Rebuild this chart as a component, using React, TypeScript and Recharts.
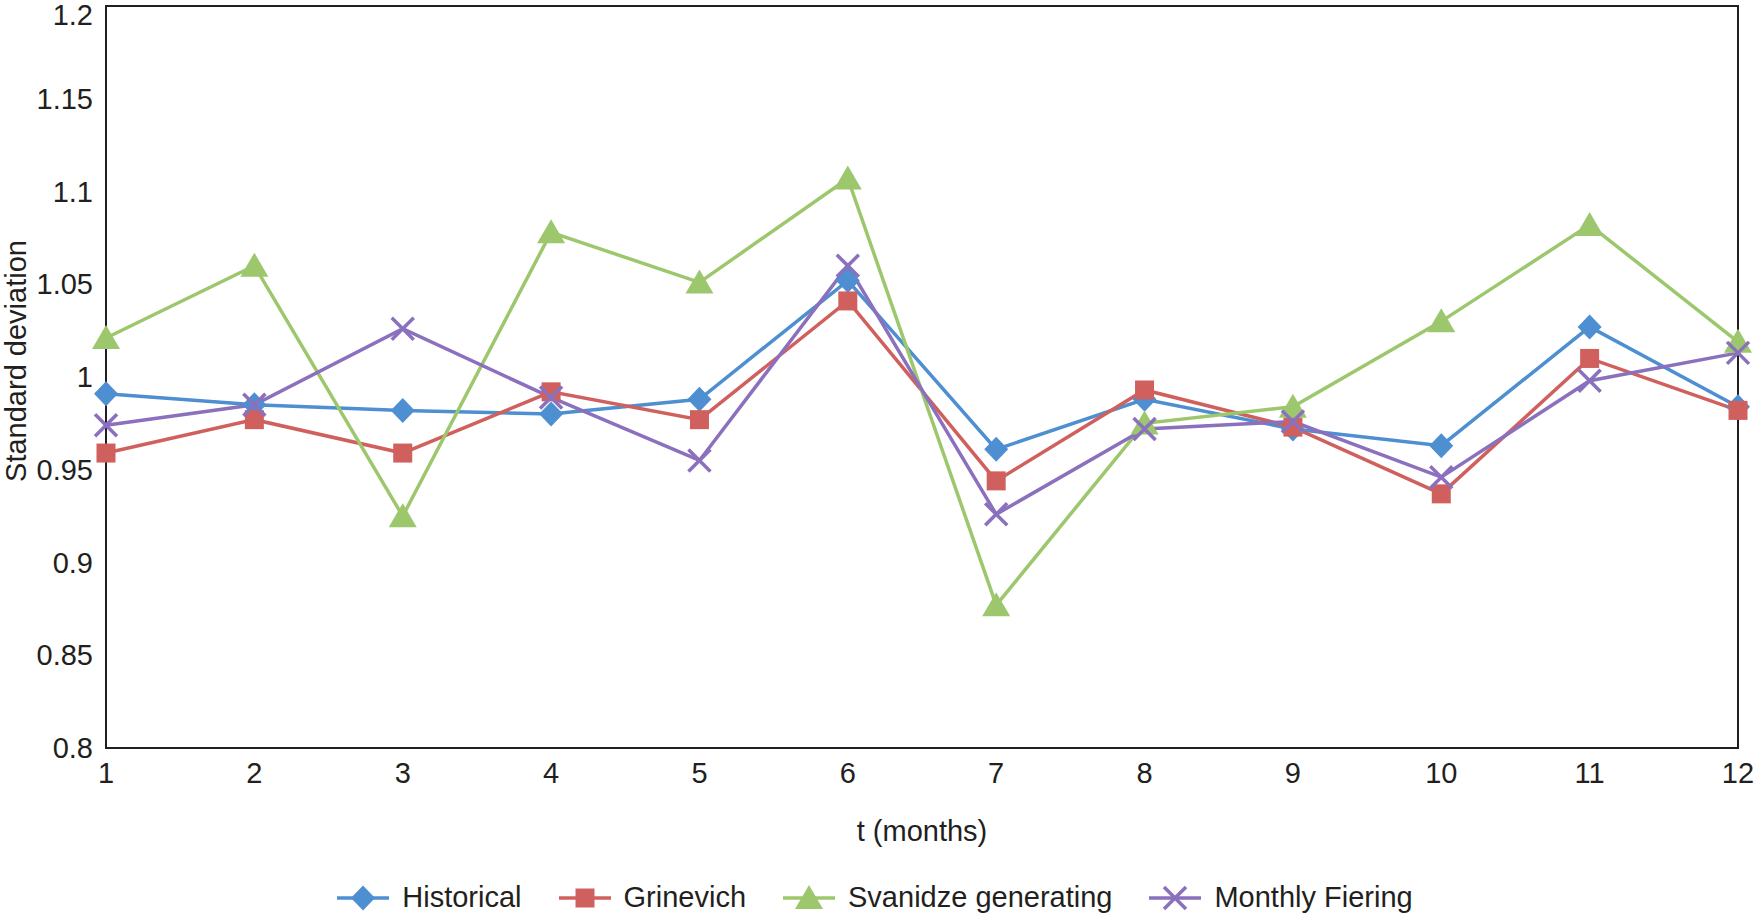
import React from 'react';
import { LineChart, Line, XAxis, YAxis, Legend, Label, ReferenceArea } from 'recharts';

const months = [1, 2, 3, 4, 5, 6, 7, 8, 9, 10, 11, 12];
const historical = [0.991, 0.985, 0.982, 0.98, 0.988, 1.052, 0.961, 0.988, 0.972, 0.963, 1.027, 0.984];
const grinevich = [0.959, 0.977, 0.959, 0.992, 0.977, 1.041, 0.944, 0.993, 0.973, 0.937, 1.01, 0.982];
const svanidze = [1.021, 1.06, 0.925, 1.078, 1.051, 1.107, 0.877, 0.975, 0.984, 1.03, 1.082, 1.019];
const fiering = [0.974, 0.985, 1.026, 0.989, 0.955, 1.06, 0.926, 0.972, 0.976, 0.946, 0.998, 1.013];
const yTicks = [0.8, 0.85, 0.9, 0.95, 1, 1.05, 1.1, 1.15, 1.2];

const data = months.map((m, i) => ({
  month: m,
  historical: historical[i],
  grinevich: grinevich[i],
  svanidze: svanidze[i],
  fiering: fiering[i],
}));

const FONT = '"Liberation Sans", Arial, sans-serif';
const INK = '#231f20';

type Shape = 'diamond' | 'square' | 'triangle' | 'cross';

const Marker = ({ cx, cy, shape, color }: { cx: number; cy: number; shape: Shape; color: string }) => {
  if (cx == null || cy == null) return null;
  if (shape === 'diamond') {
    return <polygon points={`${cx},${cy - 12.5} ${cx + 12},${cy} ${cx},${cy + 12.5} ${cx - 12},${cy}`} fill={color} />;
  }
  if (shape === 'square') {
    return <rect x={cx - 9.5} y={cy - 9.5} width={19} height={19} fill={color} />;
  }
  if (shape === 'triangle') {
    return <polygon points={`${cx},${cy - 13} ${cx + 14},${cy + 11} ${cx - 14},${cy + 11}`} fill={color} />;
  }
  return (
    <g stroke={color} strokeWidth={3.5}>
      <line x1={cx - 11} y1={cy - 11} x2={cx + 11} y2={cy + 11} />
      <line x1={cx - 11} y1={cy + 11} x2={cx + 11} y2={cy - 11} />
    </g>
  );
};

const series: { key: string; name: string; color: string; shape: Shape }[] = [
  { key: 'historical', name: 'Historical', color: '#4d8fd1', shape: 'diamond' },
  { key: 'grinevich', name: 'Grinevich', color: '#d0605d', shape: 'square' },
  { key: 'svanidze', name: 'Svanidze generating', color: '#9cc76d', shape: 'triangle' },
  { key: 'fiering', name: 'Monthly Fiering', color: '#8a70bd', shape: 'cross' },
];

const LegendContent = () => (
  <div
    style={{
      height: 57,
      paddingTop: 22,
      paddingLeft: 12,
      boxSizing: 'border-box',
      display: 'flex',
      justifyContent: 'center',
      alignItems: 'center',
      gap: 37,
      fontFamily: FONT,
      fontSize: 29,
      color: INK,
    }}
  >
    {series.map((s) => (
      <div key={s.key} style={{ display: 'flex', alignItems: 'center' }}>
        <svg width={52} height={30} style={{ marginRight: 13 }}>
          <line x1={0} y1={15} x2={52} y2={15} stroke={s.color} strokeWidth={3.5} />
          <Marker cx={26} cy={15} shape={s.shape} color={s.color} />
        </svg>
        <span>{s.name}</span>
      </div>
    ))}
  </div>
);

// y tick that keeps the top label inside the picture
const YTick = (p: any) => {
  const y = Math.max(p.y, 15);
  return (
    <text x={p.x} y={y} textAnchor="end" dominantBaseline="central" fill={INK} fontSize={29} fontFamily={FONT}>
      {String(p.payload.value)}
    </text>
  );
};

export default function App() {
  return (
    <div style={{ position: 'absolute', left: 0, top: 0, background: '#fff' }}>
      <LineChart width={1757} height={915} data={data} margin={{ top: 6, right: 19, bottom: 0, left: 0 }}>
        <XAxis
          dataKey="month"
          type="number"
          domain={[1, 12]}
          ticks={months}
          height={110}
          tickSize={0}
          tickMargin={14}
          axisLine={{ stroke: INK, strokeWidth: 2 }}
          tick={{ fill: INK, fontSize: 29, fontFamily: FONT }}
        >
          <Label
            content={(p: any) => (
              <text
                x={p.viewBox.x + p.viewBox.width / 2}
                y={p.viewBox.y + 83}
                textAnchor="middle"
                dominantBaseline="central"
                fill={INK}
                fontSize={29}
                fontFamily={FONT}
              >
                t (months)
              </text>
            )}
          />
        </XAxis>
        <YAxis
          type="number"
          domain={[0.8, 1.2]}
          ticks={yTicks}
          width={106}
          tickSize={0}
          tickMargin={13}
          axisLine={{ stroke: INK, strokeWidth: 2 }}
          tick={<YTick />}
          interval={0}
        >
          <Label
            content={(p: any) => {
              const x = 16;
              const y = p.viewBox.y + p.viewBox.height / 2 - 16;
              return (
                <text
                  x={x}
                  y={y}
                  transform={`rotate(-90 ${x} ${y})`}
                  textAnchor="middle"
                  dominantBaseline="central"
                  fill={INK}
                  fontSize={29}
                  fontFamily={FONT}
                >
                  Standard deviation
                </text>
              );
            }}
          />
        </YAxis>
        <ReferenceArea x1={1} x2={12} y1={0.8} y2={1.2} fill="none" stroke={INK} strokeWidth={2} />
        {series.map((s) => (
          <Line
            key={s.key}
            dataKey={s.key}
            name={s.name}
            stroke={s.color}
            strokeWidth={3.5}
            isAnimationActive={false}
            dot={(p: any) => <Marker key={`${s.key}-${p.index}`} cx={p.cx} cy={p.cy} shape={s.shape} color={s.color} />}
            activeDot={false}
          />
        ))}
        <Legend verticalAlign="bottom" height={57} content={() => <LegendContent />} />
      </LineChart>
    </div>
  );
}
